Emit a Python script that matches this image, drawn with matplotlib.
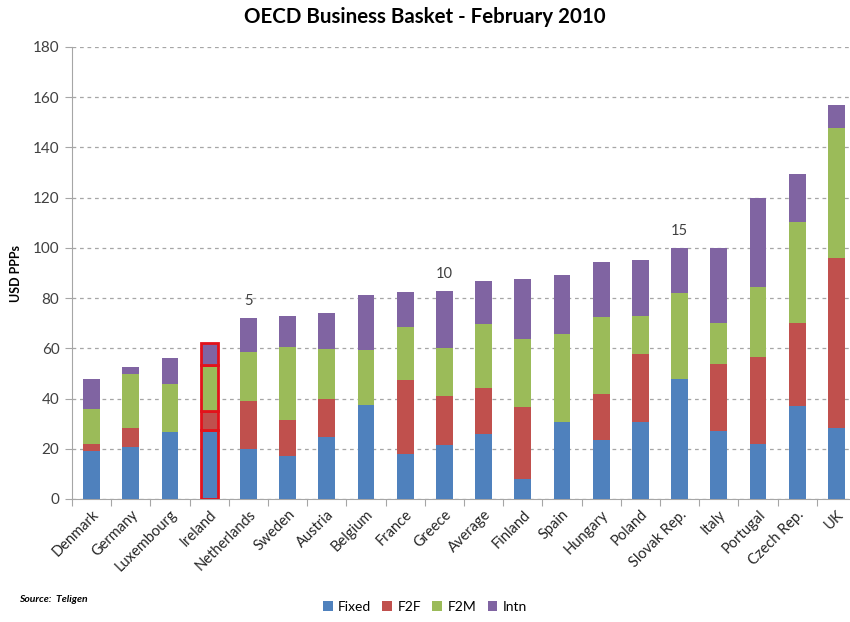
import numpy as np
import matplotlib
matplotlib.use('Agg')
import matplotlib.pyplot as plt
from matplotlib.patches import Patch

countries = ['Denmark', 'Germany', 'Luxembourg', 'Ireland', 'Netherlands', 'Sweden',
             'Austria', 'Belgium', 'France', 'Greece', 'Average', 'Finland', 'Spain',
             'Hungary', 'Poland', 'Slovak Rep.', 'Italy', 'Portugal', 'Czech Rep.', 'UK']
fixed = [19.0, 20.6, 26.6, 27.5, 20.0, 17.1, 24.6, 37.4, 17.9, 21.5,
         25.8, 7.8, 30.5, 23.3, 30.8, 47.8, 27.1, 21.9, 37.2, 28.1]
f2f = [2.8, 7.8, 0.0, 7.5, 19.0, 14.4, 15.1, 0.0, 29.5, 19.6,
       18.5, 28.7, 0.0, 18.4, 26.8, 0.0, 26.7, 34.8, 32.8, 67.8]
f2m = [14.2, 21.5, 19.3, 18.4, 19.5, 29.0, 20.0, 21.9, 21.2, 18.9,
       25.3, 27.2, 35.2, 30.6, 15.3, 34.1, 16.4, 27.9, 40.2, 52.0]
intn = [11.7, 2.5, 10.4, 8.8, 13.7, 12.4, 14.3, 21.9, 13.7, 23.0,
        17.3, 23.8, 23.5, 22.2, 22.3, 18.2, 29.9, 35.2, 19.1, 9.0]
rank_labels = {4: '5', 9: '10', 15: '15'}

series = [('Fixed', fixed, '#4F81BD'), ('F2F', f2f, '#C0504D'),
          ('F2M', f2m, '#9BBB59'), ('Intn', intn, '#8064A2')]

plt.rcParams['font.family'] = ['Lato', 'DejaVu Sans']

fig = plt.figure(figsize=(8.5, 6.22), dpi=100)
ax = fig.add_axes([72 / 850, 123 / 622, 784 / 850, 452 / 622])

x = np.arange(len(countries))
bottom = np.zeros(len(countries))
for name, vals, color in series:
    vals = np.array(vals)
    bars = ax.bar(x, vals, width=0.43, bottom=bottom, color=color, zorder=3)
    # highlight Ireland
    bars[3].set_edgecolor('#E3121B')
    bars[3].set_linewidth(2)
    bottom += vals

for i, lab in rank_labels.items():
    ax.text(x[i], bottom[i] + 4, lab, ha='center', va='bottom', fontsize=10.5, color='#404040')

ax.set_xlim(-0.5, len(countries) - 0.5)
ax.set_ylim(0, 180)
ax.set_yticks(range(0, 181, 20))
ax.yaxis.grid(True, linestyle=(0, (3, 3)), color='#A6A6A6', linewidth=0.9, zorder=0)
ax.set_xticks(np.arange(-0.5, len(countries), 1))
ax.set_xticklabels([])
ax.set_xticks(x, minor=True)
ax.set_xticklabels(countries, minor=True, rotation=45, ha='right', rotation_mode='anchor',
                   fontsize=10.5, color='#262626')
ax.tick_params(axis='x', which='minor', length=0, pad=6)
ax.tick_params(axis='x', which='major', length=5, color='#A6A6A6', direction='out')
ax.tick_params(axis='y', length=5, color='#A6A6A6', labelsize=11, labelcolor='#404040', pad=4)

for s in ['top', 'right']:
    ax.spines[s].set_visible(False)
for s in ['left', 'bottom']:
    ax.spines[s].set_color('#A6A6A6')

ax.set_ylabel('USD PPPs', fontsize=9, fontweight='bold', labelpad=8)
fig.text(0.5, 0.972, 'OECD Business Basket - February 2010', ha='center', va='center',
         fontsize=14.8, fontweight='bold')
fig.text(0.022, 0.036, 'Source:  Teligen', fontsize=7.5, fontweight='bold', style='italic',
         ha='left', va='center')

handles = [Patch(facecolor=c, label=n) for n, _, c in series]
fig.legend(handles=handles, loc='center', bbox_to_anchor=(0.5, 0.024), ncol=4, frameon=False,
           handlelength=0.7, handleheight=0.7, handletextpad=0.4, columnspacing=0.8, fontsize=10)

fig.savefig('out.png', dpi=100)
